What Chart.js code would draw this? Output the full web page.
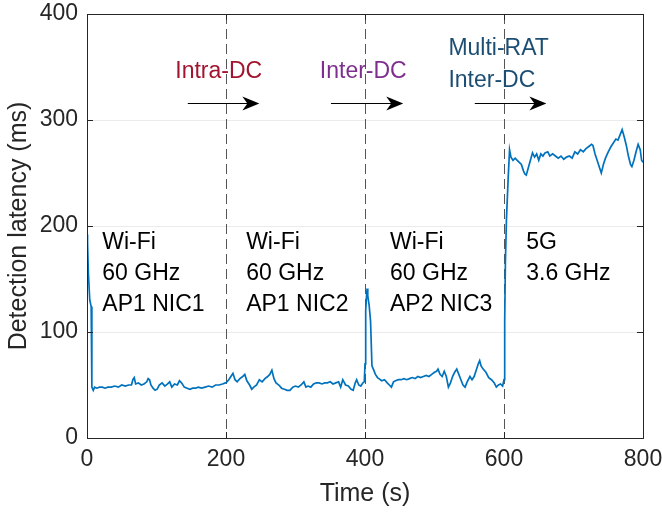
<!DOCTYPE html>
<html>
<head>
<meta charset="utf-8">
<script src="https://cdn.jsdelivr.net/npm/chart.js@4.4.1/dist/chart.umd.min.js"></script>
<style>
  html, body { margin: 0; padding: 0; background: #fff; }
  #wrap { width: 662px; height: 514px; }
</style>
</head>
<body>
<div id="wrap"><canvas id="latencyChart"></canvas></div>
<script>
// time axis (s) and measured detection latency (ms)
const times = [
  0, 0.5, 1, 2, 4, 6, 7, 9, 11, 14, 18, 22, 26, 30, 35, 40, 45, 50, 55, 60, 64, 66, 68, 70, 74, 78, 82, 86, 88, 90,
  92, 95, 98, 101, 104, 108, 112, 116, 119, 122, 126, 130, 133, 136, 140, 144, 148, 152, 156, 160, 165, 170, 175,
  180, 185, 190, 195, 199,
  200, 204, 207, 210, 213, 216, 220, 224, 227, 230, 234, 237, 240, 244, 248, 252, 256, 260, 263, 266, 269, 272, 276,
  280, 284, 288, 292, 296, 300, 304, 308, 312, 315, 318, 322, 326, 330, 334, 338, 342, 346, 350, 354, 358, 362, 365,
  368, 372, 376, 380, 383, 386, 388, 391, 394, 397, 399, 400, 401, 402, 403, 404, 406, 408, 410, 412, 415, 418,
  420, 424, 428, 432, 435, 438, 441, 444, 448, 452, 456, 460, 464, 468, 472, 476, 480, 484, 488, 492, 496, 500, 503,
  505, 508, 511, 514, 517, 520, 523, 526, 529, 532, 535, 538, 541, 544, 547, 551, 554, 557, 560, 563, 565, 567, 570,
  574, 578, 582, 586, 589, 592, 595, 598, 600, 601, 602, 603.5, 606, 608,
  610, 613, 616, 619, 622, 625, 628, 630, 632, 635, 638, 641, 644, 647, 650, 653, 656, 659, 663, 666, 670, 674, 678,
  682, 686, 690, 694, 698, 702, 706, 710, 714, 718, 722, 726, 728, 731, 734, 737, 740, 743, 746, 750, 754, 758, 761,
  764, 767, 770, 773, 776, 779, 782, 784, 787, 790, 793, 796, 798, 800
];
const latency = [
  150, 192, 185, 155, 130, 124, 48, 45, 48, 47, 48, 48, 47, 48, 48, 49, 48, 50, 49, 50, 50, 55, 57, 51, 52, 50, 51, 53, 56, 55,
  50, 47, 45, 46, 50, 52, 49, 51, 53, 48, 51, 50, 54, 52, 48, 47, 46, 47, 47, 48, 47, 48, 49,
  48, 50, 50, 51, 52,
  52, 55, 58, 61, 55, 53, 56, 58, 60, 54, 50, 46, 48, 50, 55, 53, 56, 58, 60, 64, 56, 52, 50,
  47, 46, 45, 45, 48, 49, 48, 50, 53, 48, 49, 48, 51, 52, 52, 51, 52, 52, 53, 51, 52, 53, 48,
  55, 50, 49, 46, 45, 52, 55, 50, 49, 52, 53, 70, 120, 132, 141, 134, 125, 110, 68, 65, 60, 57,
  56, 54, 55, 52, 50, 48, 53, 54, 55, 55, 56, 55, 56, 57, 56, 58, 57, 58, 59, 58, 60, 62, 63,
  65, 60, 58, 63, 58, 48, 52, 58, 62, 65, 60, 55, 50, 48, 53, 58, 55, 58, 64, 70, 73, 68, 65,
  62, 57, 55, 52, 48, 50, 51, 49, 55, 110, 165, 206, 245, 272,
  265, 262, 264, 262, 260, 258, 252, 249, 248, 255, 262, 269, 265, 268, 262, 268, 266, 269, 270, 266, 268, 266, 264,
  266, 263, 265, 266, 264, 270, 268, 272, 270, 273, 275, 277, 276, 268, 262, 256, 250, 258, 264, 270, 275, 279, 282,
  281, 286, 291, 284, 276, 266, 258, 256, 262, 270, 277, 272, 262, 260
];
const xTicks = [0, 200, 400, 600, 800];
const yTicks = [0, 100, 200, 300, 400];
const switchTimes = [200, 400, 600];

const font = '"Liberation Sans", Arial, Helvetica, sans-serif';
const axisColor = '#262626';

// annotation text in data coordinates
const blockLabels = [
  { x: 22, lines: ['Wi-Fi', '60 GHz', 'AP1 NIC1'] },
  { x: 229, lines: ['Wi-Fi', '60 GHz', 'AP1 NIC2'] },
  { x: 436, lines: ['Wi-Fi', '60 GHz', 'AP2 NIC3'] },
  { x: 632, lines: ['5G', '3.6 GHz'] }
];
const blockLineY = [184, 155, 126];
const transitions = [
  { x: 127, lines: ['Intra-DC'], ys: [346], color: '#A2142F', from: 145, to: 248 },
  { x: 335, lines: ['Inter-DC'], ys: [346], color: '#7E2F8E', from: 351, to: 455 },
  { x: 520, lines: ['Multi-RAT', 'Inter-DC'], ys: [367, 337], color: '#1C4E74', from: 558, to: 661 }
];
const arrowY = 316;

const decorations = {
  id: 'decorations',
  beforeDatasetsDraw(chart) {
    const { ctx, chartArea: a, scales: { x, y } } = chart;
    ctx.save();
    ctx.strokeStyle = '#555';
    ctx.lineWidth = 1;
    ctx.setLineDash([10, 5]);
    switchTimes.forEach(t => {
      const px = Math.round(x.getPixelForValue(t)) + 0.5;
      ctx.beginPath();
      ctx.moveTo(px, a.top);
      ctx.lineTo(px, a.bottom);
      ctx.stroke();
    });
    ctx.restore();
  },
  afterDatasetsDraw(chart) {
    const { ctx, chartArea: a, scales: { x, y } } = chart;
    ctx.save();
    // box + inward ticks
    ctx.strokeStyle = axisColor;
    ctx.lineWidth = 1;
    ctx.strokeRect(Math.round(a.left) + 0.5, Math.round(a.top) + 0.5,
      Math.round(a.right - a.left), Math.round(a.bottom - a.top));
    const tl = 6;
    ctx.beginPath();
    yTicks.forEach(v => {
      const py = Math.round(y.getPixelForValue(v)) + 0.5;
      ctx.moveTo(a.left, py); ctx.lineTo(a.left + tl, py);
      ctx.moveTo(a.right, py); ctx.lineTo(a.right - tl, py);
    });
    xTicks.forEach(v => {
      const px = Math.round(x.getPixelForValue(v)) + 0.5;
      ctx.moveTo(px, a.bottom); ctx.lineTo(px, a.bottom - tl);
      ctx.moveTo(px, a.top); ctx.lineTo(px, a.top + tl);
    });
    ctx.stroke();

    // block labels
    ctx.fillStyle = '#000';
    ctx.font = '23px ' + font;
    ctx.textBaseline = 'middle';
    ctx.textAlign = 'left';
    blockLabels.forEach(b => {
      b.lines.forEach((s, i) => {
        ctx.fillText(s, x.getPixelForValue(b.x), y.getPixelForValue(blockLineY[i]));
      });
    });

    // transition labels and arrows
    transitions.forEach(t => {
      ctx.fillStyle = t.color;
      ctx.font = '23px ' + font;
      t.lines.forEach((s, i) => {
        ctx.fillText(s, x.getPixelForValue(t.x), y.getPixelForValue(t.ys[i]));
      });
      const x0 = x.getPixelForValue(t.from);
      const x1 = x.getPixelForValue(t.to);
      const py = Math.round(y.getPixelForValue(arrowY)) + 0.5;
      ctx.strokeStyle = '#000';
      ctx.lineWidth = 1.2;
      ctx.beginPath();
      ctx.moveTo(x0, py);
      ctx.lineTo(x1 - 8, py);
      ctx.stroke();
      ctx.fillStyle = '#000';
      ctx.beginPath();
      ctx.moveTo(x1, py);
      ctx.lineTo(x1 - 17, py - 7);
      ctx.lineTo(x1 - 12, py);
      ctx.lineTo(x1 - 17, py + 7);
      ctx.closePath();
      ctx.fill();
    });
    ctx.restore();
  }
};

const ctx = document.getElementById('latencyChart').getContext('2d');
const latencyChart = new Chart(ctx, {
  type: 'line',
  data: {
    datasets: [{
      data: times.map((t, i) => ({ x: t, y: latency[i] })),
      borderColor: '#0072BD',
      borderWidth: 1.7,
      pointRadius: 0,
      tension: 0,
      fill: false
    }]
  },
  options: {
    responsive: true,
    maintainAspectRatio: false,
    animation: false,
    layout: { padding: { top: 14, right: 19, left: 0, bottom: 0 } },
    plugins: {
      legend: { display: false },
      tooltip: { enabled: false }
    },
    scales: {
      x: {
        type: 'linear',
        min: 0,
        max: 800,
        afterBuildTicks: s => { s.ticks = xTicks.map(v => ({ value: v })); },
        afterFit: s => { s.height = 76; s.paddingLeft = 0; s.paddingRight = 0; },
        border: { display: false },
        grid: { display: false, drawTicks: false },
        ticks: { color: axisColor, font: { family: font, size: 23 }, padding: 8, maxRotation: 0 },
        title: {
          display: true,
          text: 'Time (s)',
          color: axisColor,
          font: { family: font, size: 25 },
          padding: { top: 0, bottom: 5 }
        }
      },
      y: {
        min: 0,
        max: 400,
        afterBuildTicks: s => { s.ticks = yTicks.map(v => ({ value: v })); },
        afterFit: s => { s.width = 87; s.paddingTop = 0; s.paddingBottom = 0; },
        border: { display: false },
        grid: {
          drawTicks: false,
          color: c => (c.tick.value === 0 || c.tick.value === 400) ? 'rgba(0,0,0,0)' : '#ebebeb',
          lineWidth: 1
        },
        ticks: { color: axisColor, font: { family: font, size: 23 }, padding: 9 },
        title: {
          display: true,
          text: 'Detection latency (ms)',
          color: axisColor,
          font: { family: font, size: 25 },
          padding: { top: 4, bottom: 0 }
        }
      }
    }
  },
  plugins: [decorations]
});
</script>
</body>
</html>
